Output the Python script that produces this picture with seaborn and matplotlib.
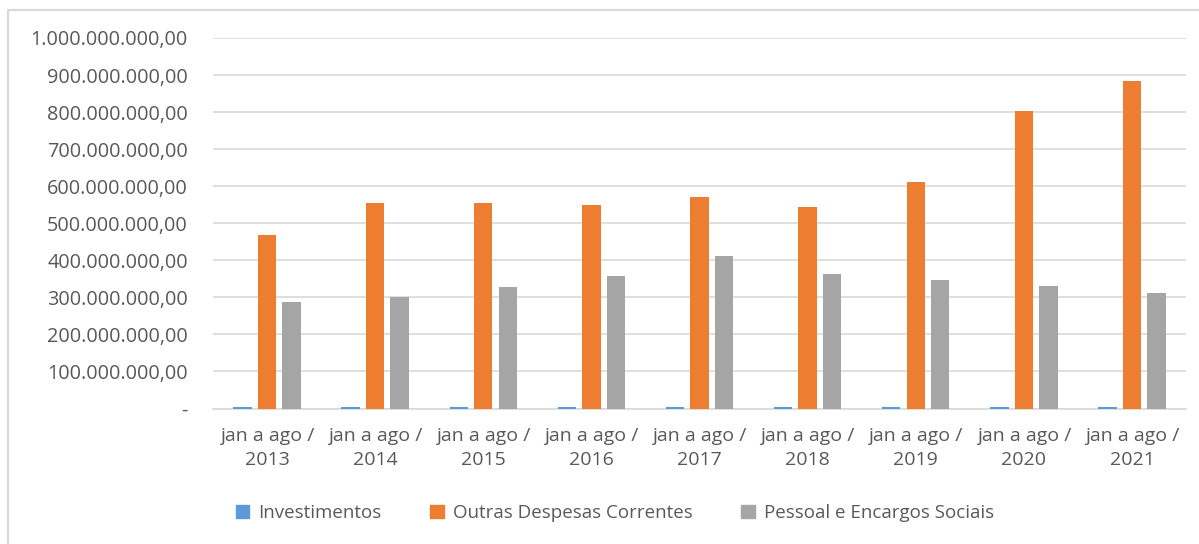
import pandas as pd
import seaborn as sns
import matplotlib.pyplot as plt
from matplotlib.lines import Line2D
from matplotlib.ticker import FuncFormatter

# Values (R$)
periodos = ['jan a ago /\n2013', 'jan a ago /\n2014', 'jan a ago /\n2015',
            'jan a ago /\n2016', 'jan a ago /\n2017', 'jan a ago /\n2018',
            'jan a ago /\n2019', 'jan a ago /\n2020', 'jan a ago /\n2021']
investimentos = [5.0e6, 5.2e6, 5.0e6, 4.8e6, 5.1e6, 5.0e6, 5.2e6, 5.3e6, 5.0e6]
outras_despesas = [468e6, 554e6, 554e6, 549e6, 571e6, 544e6, 611e6, 803e6, 884e6]
pessoal = [287e6, 301e6, 328e6, 358e6, 412e6, 363e6, 347e6, 331e6, 311e6]
grupos = ['Investimentos', 'Outras Despesas Correntes', 'Pessoal e Encargos Sociais']
cores = ['#5B9BD5', '#ED7D31', '#A5A5A5']

# long-form table for seaborn
df = pd.DataFrame({
    'Periodo': periodos * 3,
    'Valor': investimentos + outras_despesas + pessoal,
    'Grupo': [g for g in grupos for _ in periodos],
})

sns.set_style('white')
plt.rcParams['font.family'] = ['Open Sans', 'DejaVu Sans']

fig = plt.figure(figsize=(11.99, 5.44), dpi=100)
ax = fig.add_axes([213 / 1199, 1 - 408.5 / 544, 973 / 1199, 370.5 / 544])

sns.barplot(data=df, x='Periodo', y='Valor', hue='Grupo', palette=cores,
            saturation=1, width=0.68, gap=0.25, linewidth=0, ax=ax,
            legend=False, zorder=3)


def fmt_reais(v, pos):
    if abs(v) < 1:
        return '-'
    s = f'{v:,.2f}'
    return s.replace(',', 'X').replace('.', ',').replace('X', '.')


ax.set_ylim(0, 1e9)
ax.set_yticks([i * 1e8 for i in range(11)])
ax.yaxis.set_major_formatter(FuncFormatter(fmt_reais))
ax.yaxis.grid(True, color='#D9D9D9', linewidth=1.2, zorder=0)
ax.set_axisbelow(True)
for s in ['top', 'right', 'left']:
    ax.spines[s].set_visible(False)
ax.spines['bottom'].set_color('#D9D9D9')
ax.spines['bottom'].set_linewidth(1.2)
ax.tick_params(axis='y', length=0, pad=18, labelsize=14.3, labelcolor='#595959')
ax.tick_params(axis='x', length=0, pad=13, labelsize=14, labelcolor='#595959')
ax.set_xticks(range(len(periodos)), labels=periodos, linespacing=1.45)
ax.set_xlabel('')
ax.set_ylabel('')

# legend below the plot
handles = [plt.Rectangle((0, 0), 1, 1, color=c) for c in cores]
fig.legend(handles, grupos, loc='center', bbox_to_anchor=(615 / 1199, 1 - 513 / 544),
           ncol=3, frameon=False, fontsize=13.5, labelcolor='#595959',
           handlelength=0.7, handleheight=0.7, handletextpad=0.5, columnspacing=2.6)

# chart area border (top and left edges visible)
fig.add_artist(Line2D([8 / 1199, 1], [1 - 10 / 544, 1 - 10 / 544], color='#D9D9D9', linewidth=1.5))
fig.add_artist(Line2D([8 / 1199, 8 / 1199], [0, 1 - 10 / 544], color='#D9D9D9', linewidth=1.5))

fig.savefig('out.png', dpi=100, facecolor='white')
